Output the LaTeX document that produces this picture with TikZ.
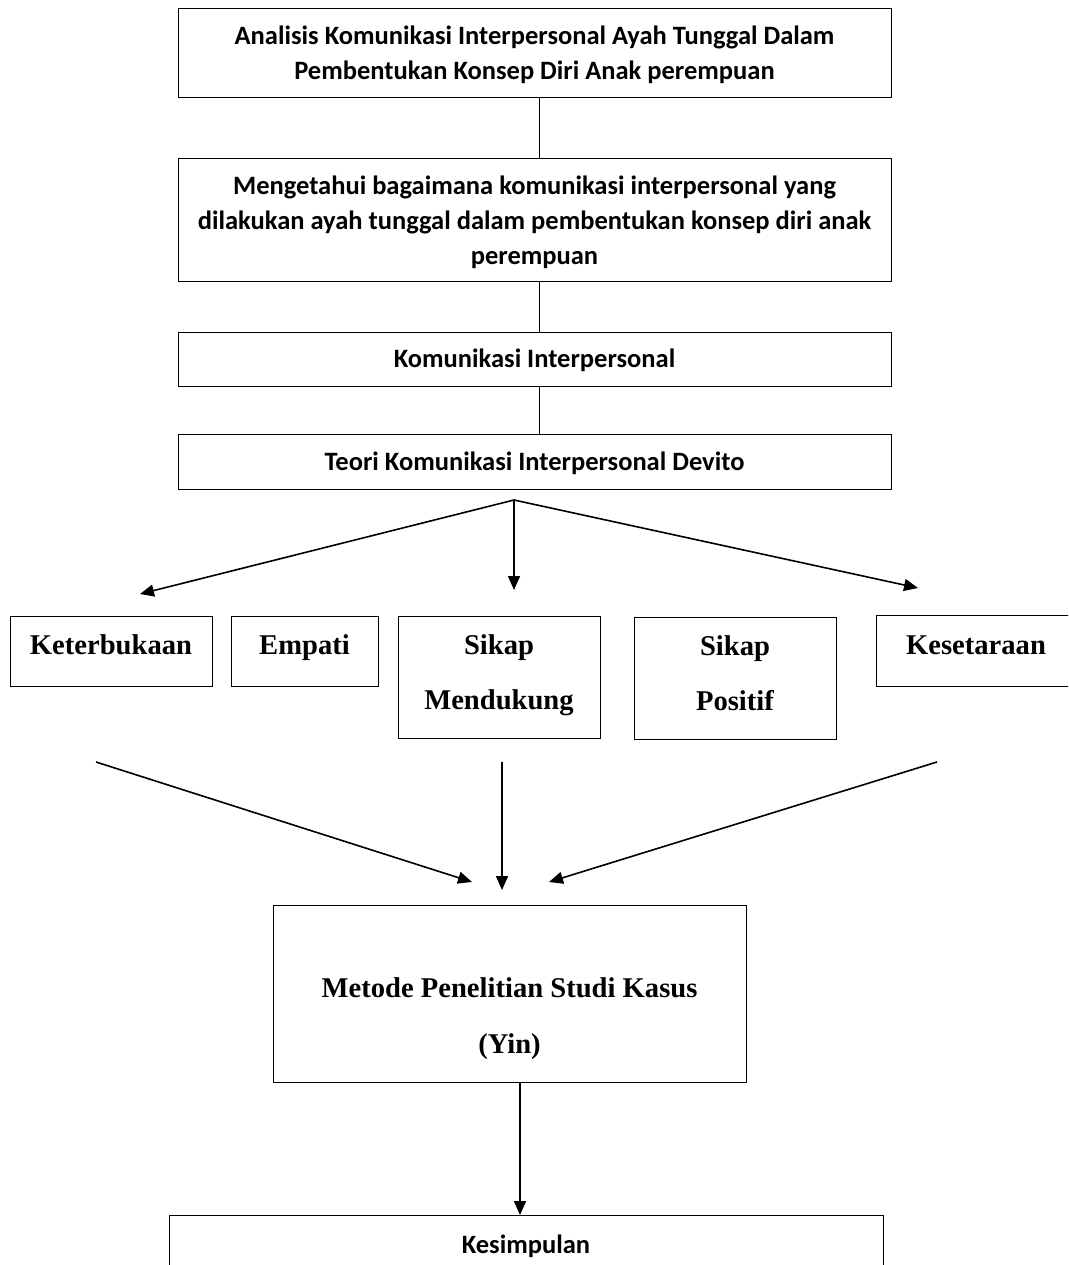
\documentclass[tikz,border=0pt]{standalone}
\usepackage{fontspec}
\setmainfont{Liberation Serif}
\newfontfamily\calib{Carlito}
\usetikzlibrary{arrows.meta}
\begin{document}
\begin{tikzpicture}[x=1pt,y=-1pt,
  box/.style={draw, line width=1.3pt, inner sep=0pt, anchor=north west},
  stext/.style={align=center, inner sep=0pt, font=\calib\bfseries\fontsize{26.5}{35}\selectfont},
  rtext/.style={anchor=base, inner sep=0pt, font=\bfseries\fontsize{28.6}{55}\selectfont},
  con/.style={line width=1.3pt},
  arr/.style={line width=1.6pt, -{Triangle[length=14pt,width=12pt]}}
]
\useasboundingbox (0,0) rectangle (1068,1265);
\fill[white] (0,0) rectangle (1068,1265);
\clip (0,0) rectangle (1068,1265);

% top boxes
\node[box, minimum width=713pt, minimum height=89pt] (b1) at (178,8) {};
\node[stext] (t1) at (534.5,55) {Analisis Komunikasi Interpersonal Ayah Tunggal Dalam\\Pembentukan Konsep Diri Anak perempuan};
\node[box, minimum width=713pt, minimum height=123pt] (b2) at (178,158) {};
\node[stext] (t2) at (534.5,222.5) {Mengetahui bagaimana komunikasi interpersonal yang\\dilakukan ayah tunggal dalam pembentukan konsep diri anak\\perempuan};
\node[box, minimum width=713pt, minimum height=54pt] (b3) at (178,332) {};
\node[stext] (t3) at (534.5,360) {Komunikasi Interpersonal};
\node[box, minimum width=713pt, minimum height=55pt] (b4) at (178,434) {};
\node[stext] (t4) at (534.5,463) {Teori Komunikasi Interpersonal Devito};

\draw[con] ([xshift=4.5pt]b1.south) -- ([xshift=4.5pt]b2.north);
\draw[con] ([xshift=4.5pt]b2.south) -- ([xshift=4.5pt]b3.north);
\draw[con] ([xshift=4.5pt]b3.south) -- ([xshift=4.5pt]b4.north);

% fan out
\coordinate (apex) at (514,500);
\coordinate (fl) at (140,594);
\coordinate (fm) at (514,590);
\coordinate (fr) at (918,588);
\draw[arr] (apex) -- (fl);
\draw[arr] (apex) -- (fm);
\draw[arr] (apex) -- (fr);

% aspect boxes
\node[box, minimum width=202pt, minimum height=70pt] (k1) at (10,616) {};
\node[rtext] (k1t) at (111,654) {Keterbukaan};
\node[box, minimum width=147pt, minimum height=70pt] (k2) at (231,616) {};
\node[rtext] (k2t) at (304.5,654) {Empati};
\node[box, minimum width=202pt, minimum height=122pt] (k3) at (398,616) {};
\node[rtext] (k3a) at (499,654) {Sikap};
\node[rtext] (k3b) at (499,709) {Mendukung};
\node[box, minimum width=202pt, minimum height=122pt] (k4) at (634,617) {};
\node[rtext] (k4a) at (735,655) {Sikap};
\node[rtext] (k4b) at (735,710) {Positif};
\node[box, minimum width=220pt, minimum height=71pt] (k5) at (876,615) {};
\node[rtext] (k5t) at (976,654) {Kesetaraan};

% converge
\coordinate (cl0) at (96,762);
\coordinate (cl1) at (472,882);
\coordinate (cm0) at (502,762);
\coordinate (cm1) at (502,890);
\coordinate (cr0) at (937,762);
\coordinate (cr1) at (549,882);
\draw[arr] (cl0) -- (cl1);
\draw[arr] (cm0) -- (cm1);
\draw[arr] (cr0) -- (cr1);

% method
\node[box, minimum width=473pt, minimum height=177pt] (m) at (273,905) {};
\node[rtext] (mt1) at (509.5,997) {Metode Penelitian Studi Kasus};
\node[rtext] (mt2) at (509.5,1053) {(Yin)};

% conclusion
\node[box, minimum width=714pt, minimum height=80pt] (ks) at (169,1215) {};
\node[stext] (kst) at (526,1246) {Kesimpulan};
\draw[arr] (m.south -| 520,0) -- (ks.north -| 520,0);
\end{tikzpicture}
\end{document}
